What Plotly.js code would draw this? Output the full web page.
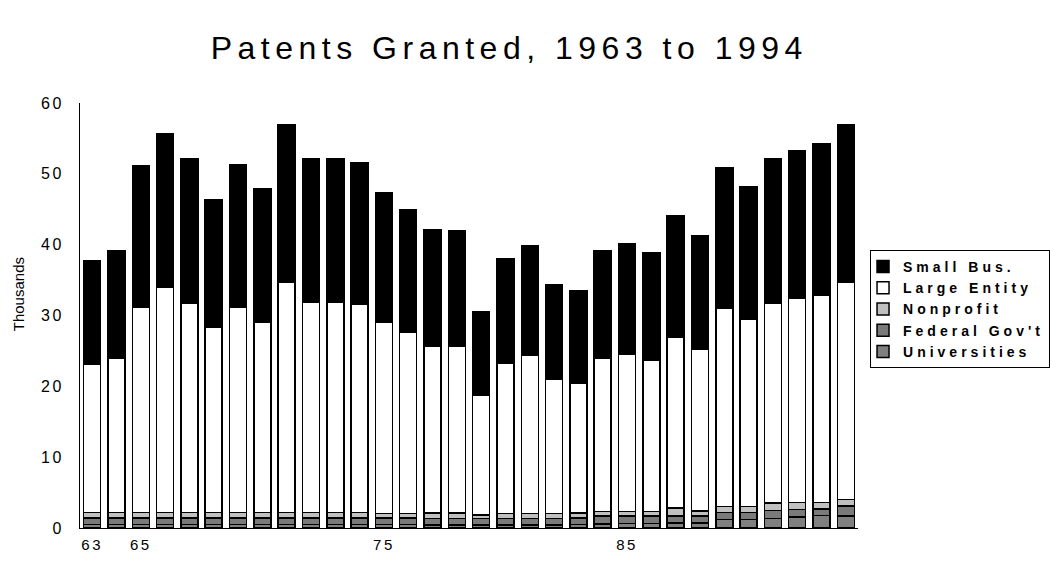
<!DOCTYPE html>
<html>
<head>
<meta charset="utf-8">
<script src="https://cdn.plot.ly/plotly-3.0.1.min.js"></script>
<style>
  body { margin: 0; background: #fff; }
  #chart { width: 1050px; height: 565px; }
  .gtitle { letter-spacing: 5.5px; }
  .xtick text, .ytick text { letter-spacing: 2.5px; }
  .legendtext { letter-spacing: 4px; }
</style>
</head>
<body>
<div id="chart"></div>
<script>
const years = [1963,1964,1965,1966,1967,1968,1969,1970,1971,1972,1973,1974,1975,1976,1977,1978,
               1979,1980,1981,1982,1983,1984,1985,1986,1987,1988,1989,1990,1991,1992,1993,1994];

const tickYears = [1963, 1965, 1975, 1985];
const tickLabels = ["63", "65", "75", "85"];

// thousands of patents
const universities = [0.5,0.5,0.5,0.5,0.5,0.5,0.5,0.5,0.5,0.5,0.5,0.5,0.5,0.5,0.45,0.45,
                      0.42,0.45,0.45,0.45,0.5,0.6,0.62,0.66,0.7,0.7,1.17,1.17,1.32,1.55,1.74,1.7];
const federalGov = [0.9,0.9,0.9,0.9,0.9,0.9,0.9,0.9,0.9,0.9,0.9,0.9,0.9,0.9,0.9,0.9,
                    0.9,0.9,0.9,0.9,0.9,1.08,1.08,1.04,1.0,1.0,1.03,1.03,1.13,1.09,0.94,1.4];
const nonprofit = [0.8,0.8,0.8,0.8,0.8,0.8,0.8,0.8,0.8,0.8,0.8,0.8,0.67,0.67,0.75,0.75,
                   0.55,0.7,0.7,0.7,0.7,0.65,0.65,0.65,1.1,0.7,0.86,0.86,1.05,0.96,0.92,0.95];
const largeEntity = [20.9,21.7,29.0,31.8,29.5,26.1,29.0,26.9,32.5,29.7,29.7,29.4,27.0,25.5,23.6,23.6,
                     16.9,21.25,22.35,18.95,18.4,21.6,22.25,21.35,24.2,22.8,27.9,26.35,28.2,28.8,29.3,30.65];
const smallBus = [14.7,15.2,19.9,21.6,20.5,18.1,20.1,18.8,22.3,20.3,20.3,19.9,18.3,17.3,16.4,16.2,
                  11.8,14.7,15.4,13.4,13.0,15.2,15.6,15.1,17.1,16.0,19.9,18.7,20.4,20.8,21.3,22.3];

const seriesNames = ["Universities", "Federal Gov't", "Nonprofit", "Large Entity", "Small Bus."];
const seriesData = [universities, federalGov, nonprofit, largeEntity, smallBus];
const seriesColors = ["#808080", "#7a7a7a", "#c0c0c0", "#ffffff", "#000000"];

const traces = seriesNames.map((name, i) => ({
  type: "bar",
  name: name,
  x: years,
  y: seriesData[i],
  marker: { color: seriesColors[i], line: { color: "#000000", width: 1.5 } },
  hoverinfo: "x+y+name"
}));

const layout = {
  width: 1050,
  height: 565,
  paper_bgcolor: "#ffffff",
  plot_bgcolor: "#ffffff",
  font: { family: "Liberation Sans, Arial, sans-serif", color: "#000000" },
  margin: { l: 80, r: 192, t: 103, b: 37, autoexpand: false },
  barmode: "stack",
  bargap: 0.3,
  title: {
    text: "Patents Granted, 1963 to 1994",
    font: { size: 32, color: "#000000" },
    xref: "container", x: 0.485, xanchor: "center",
    yref: "container", y: 0.915, yanchor: "middle"
  },
  xaxis: {
    type: "linear",
    range: [1962.5, 1994.5],
    tickmode: "array",
    tickvals: tickYears,
    ticktext: tickLabels,
    showline: true, linecolor: "#000000", linewidth: 1,
    showgrid: false, zeroline: false,
    ticks: "outside", ticklen: 3, tickcolor: "rgba(0,0,0,0)",
    tickfont: { size: 15 }
  },
  yaxis: {
    range: [0, 60],
    dtick: 10,
    showline: true, linecolor: "#000000", linewidth: 1,
    showgrid: false, zeroline: false,
    ticks: "outside", ticklen: 12, tickcolor: "rgba(0,0,0,0)",
    tickfont: { size: 16 }
  },
  annotations: [{
    text: "Thousands",
    xref: "paper", yref: "paper",
    x: -0.0797, y: 0.55,
    xanchor: "center", yanchor: "middle",
    textangle: -90,
    showarrow: false,
    font: { size: 15, color: "#000000" }
  }],
  legend: {
    xref: "container", yref: "container",
    x: 0.8286, xanchor: "left",
    y: 0.5575, yanchor: "top",
    traceorder: "reversed",
    bordercolor: "#000000", borderwidth: 1,
    bgcolor: "#ffffff",
    indentation: -8,
    font: { size: 14, family: "Liberation Sans, Arial, sans-serif", weight: "bold" },
    itemwidth: 30
  },
  showlegend: true
};

Plotly.newPlot("chart", traces, layout, { displayModeBar: false, staticPlot: true });
</script>
</body>
</html>
